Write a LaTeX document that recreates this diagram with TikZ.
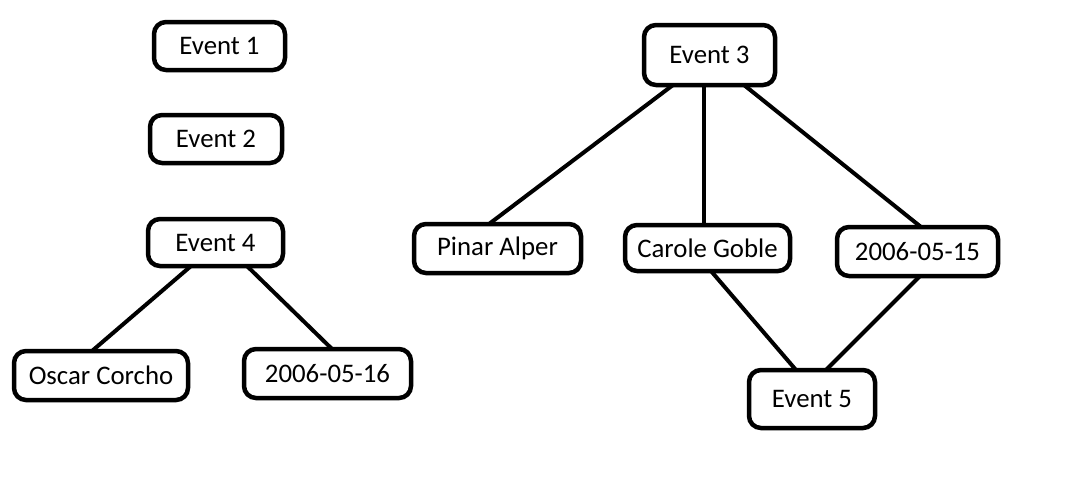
\documentclass[tikz,border=0pt]{standalone}
\usepackage{fontspec}
\setmainfont{Carlito}
\begin{document}
\begin{tikzpicture}[x=1pt,y=-1pt,
  box/.style={draw=black, line width=4.5pt, rounded corners=12pt, outer sep=0pt,
    inner sep=0pt, font=\fontsize{26.8}{30}\selectfont, fill=white},
  link/.style={draw=black, line width=4pt}]
\useasboundingbox[fill=white] (0,0) rectangle (1071,480);
% nodes: minimum sizes = visible size minus line width
\node[box, minimum width=131pt, minimum height=48pt] (e1) at (219.5,46) {Event 1};
\node[box, minimum width=132pt, minimum height=48pt] (e2) at (216,139) {Event 2};
\node[box, minimum width=135pt, minimum height=47pt] (e4) at (215.5,242.5) {Event 4};
\node[box, minimum width=174pt, minimum height=49pt] (oc) at (101,375.5) {Oscar Corcho};
\node[box, minimum width=167pt, minimum height=49pt] (d16) at (327.5,373.5) {2006-05-16};
\node[box, minimum width=131pt, minimum height=60pt] (e3) at (709.5,55) {Event 3};
\node[box, minimum width=167pt, minimum height=49pt] (pa) at (497.5,248.5) {Pinar Alper};
\node[box, minimum width=165pt, minimum height=46pt] (cg) at (707.5,248) {Carole Goble};
\node[box, minimum width=161pt, minimum height=49pt] (d15) at (917.5,251.5) {2006-05-15};
\node[box, minimum width=126pt, minimum height=58pt] (e5) at (812,399) {Event 5};
% connectors
\draw[link] ([xshift=-24.5pt]e4.south) -- ([xshift=-9pt]oc.north);
\draw[link] ([xshift=31.5pt]e4.south) -- ([xshift=4.5pt]d16.north);
\draw[link] ([xshift=-36.5pt]e3.south) -- ([xshift=-8.5pt]pa.north);
\draw[link] ([xshift=-5.5pt]e3.south) -- ([xshift=-3.5pt]cg.north);
\draw[link] ([xshift=34.5pt]e3.south) -- ([xshift=3.5pt]d15.north);
\draw[link] ([xshift=3.5pt]cg.south) -- ([xshift=-16pt]e5.north);
\draw[link] ([xshift=2.5pt]d15.south) -- ([xshift=14pt]e5.north);
\end{tikzpicture}
\end{document}
